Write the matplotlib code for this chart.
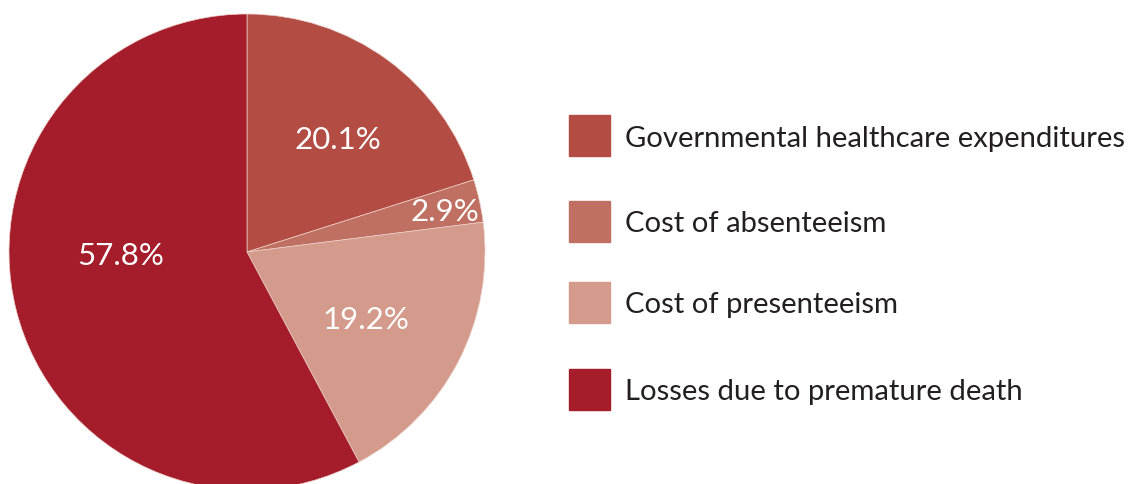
import numpy as np
import matplotlib.pyplot as plt
from matplotlib.patches import Rectangle

# Breakdown of costs (shares in %)
categories = ['Governmental healthcare expenditures', 'Cost of absenteeism',
              'Cost of presenteeism', 'Losses due to premature death']
shares = [20.1, 2.9, 19.2, 57.8]
colors = ['#B34C43', '#C07062', '#D49A8B', '#A51C2A']

# label placement: fraction of radius, extra rotation (deg) from wedge middle
label_r = [0.62, 0.85, 0.57, 0.53]
label_turn = [-2, 0, -1, -14]

plt.rcParams['font.family'] = ['Lato', 'DejaVu Sans']

W, H = 1131, 485
fig = plt.figure(figsize=(W / 100, H / 100), dpi=100)
ax = fig.add_axes([0, 0, 1, 1])

cx, cy, R = 247, H - 253, 238
wedges, _ = ax.pie(shares, colors=colors, startangle=90, counterclock=False,
                   center=(cx, cy), radius=R,
                   wedgeprops=dict(edgecolor='#ecd0ca', linewidth=0.5))

for w, val, fr, turn in zip(wedges, shares, label_r, label_turn):
    ang = np.deg2rad((w.theta1 + w.theta2) / 2 + turn)
    ax.text(cx + fr * R * np.cos(ang), cy + fr * R * np.sin(ang), f'{val}%',
            color='white', fontsize=22.5, ha='center', va='center_baseline')

# legend drawn by hand
rows = [136, 222, 303, 390]
for row, col, name in zip(rows, colors, categories):
    ax.add_patch(Rectangle((569, H - row - 20.5), 41, 41, color=col))
    ax.text(625, H - row, name, fontsize=21.1, color='#231f20',
            ha='left', va='center_baseline')

ax.set_xlim(0, W)
ax.set_ylim(0, H)
ax.set_aspect('auto')
ax.axis('off')

fig.savefig('out.png', dpi=100)
